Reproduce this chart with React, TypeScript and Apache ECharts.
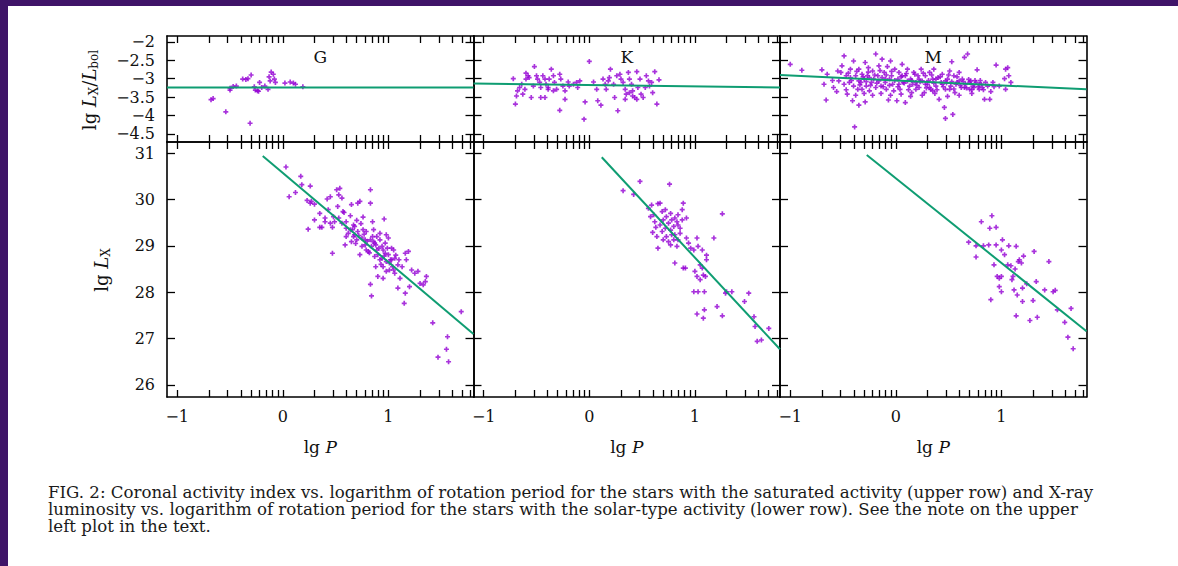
import React, { useEffect, useRef } from 'react';
import * as echarts from 'echarts';

// ---------- data ----------
const PANEL_NAMES = ['G', 'K', 'M'];
const P_TICK_DAYS = [0.1, 0.2, 0.3, 0.4, 0.5, 0.6, 0.7, 0.8, 0.9, 1, 2, 3, 4, 5, 6, 7, 8, 9, 10, 20, 30, 40, 50, 60];
const X_LABELS = [-1, 0, 1];
const TOP_Y_TICKS = [-2, -2.5, -3, -3.5, -4, -4.5];
const BOT_Y_TICKS = [26, 27, 28, 29, 30, 31];
const P_MIN_DAYS = 0.08;
const P_MAX_DAYS = 64;
const TOP_Y_RANGE = [-4.72, -1.84];
const BOT_Y_RANGE = [25.74, 31.24];

const G_TOP = [[-0.68,-3.57],[-0.66,-3.54],[-0.54,-3.90],[-0.50,-3.31],[-0.50,-3.26],[-0.47,-3.21],[-0.44,-3.20],[-0.38,-3.01],[-0.35,-3.02],[-0.33,-3.00],[-0.30,-2.90],[-0.31,-4.21],[-0.27,-3.22],[-0.26,-3.31],[-0.24,-3.33],[-0.22,-3.10],[-0.20,-3.24],[-0.17,-3.20],[-0.14,-3.29],[-0.12,-3.06],[-0.11,-2.82],[-0.09,-2.88],[-0.08,-3.01],[-0.07,-3.10],[0.02,-3.12],[0.07,-3.09],[0.10,-3.12],[0.12,-3.15],[0.19,-3.22],[-0.23,-3.34],[-0.13,-2.95]];

const K_TOP = [[-0.72,-3.00],[-0.69,-3.47],[-0.70,-3.69],[-0.68,-3.33],[-0.66,-3.24],[-0.60,-2.85],[-0.58,-2.92],[-0.60,-3.01],[-0.57,-2.97],[-0.52,-2.67],[-0.50,-2.92],[-0.49,-3.01],[-0.47,-3.10],[-0.46,-3.24],[-0.44,-2.92],[-0.42,-3.01],[-0.41,-3.15],[-0.39,-3.29],[-0.38,-3.01],[-0.36,-2.74],[-0.34,-2.92],[-0.33,-3.10],[-0.31,-3.29],[-0.28,-2.88],[-0.27,-3.01],[-0.25,-3.20],[-0.23,-3.56],[-0.28,-3.86],[-0.20,-3.09],[-0.19,-3.20],[-0.15,-3.15],[-0.12,-3.10],[-0.11,-3.24],[-0.09,-3.06],[-0.04,-3.63],[-0.05,-4.10],[0.00,-2.53],[0.04,-3.09],[0.07,-3.29],[0.08,-3.60],[0.11,-3.72],[0.13,-3.01],[0.15,-3.15],[0.16,-3.29],[0.18,-3.06],[0.19,-2.97],[0.20,-2.74],[0.23,-3.15],[0.24,-3.51],[0.26,-2.92],[0.27,-3.87],[0.29,-2.88],[0.30,-3.01],[0.32,-3.10],[0.34,-3.29],[0.35,-3.42],[0.37,-2.83],[0.38,-3.01],[0.40,-3.15],[0.41,-3.33],[0.43,-3.51],[0.45,-2.81],[0.46,-3.24],[0.48,-3.01],[0.49,-3.42],[0.51,-3.51],[0.53,-3.24],[0.54,-2.92],[0.56,-3.06],[0.57,-3.20],[0.59,-3.10],[0.60,-3.38],[0.62,-2.81],[0.64,-3.69],[0.66,-3.03],[-0.63,-3.42],[-0.64,-3.15],[-0.61,-3.29],[-0.55,-3.51],[-0.53,-3.20],[-0.46,-3.51],[-0.42,-3.51],[-0.39,-3.24],[-0.34,-3.33],[-0.23,-3.33],[0.41,-3.47],[0.45,-3.56],[0.38,-3.38],[0.34,-3.56]];

const M_TOP = [[-1.00,-2.61],[-0.89,-2.77],[-0.70,-2.76],[-0.68,-3.15],[-0.66,-3.58],[-0.65,-2.88],[-0.59,-3.24],[-0.55,-2.79],[-0.54,-3.06],[-0.51,-2.65],[-0.49,-2.38],[-0.47,-2.92],[-0.46,-3.42],[-0.44,-3.10],[-0.43,-2.74],[-0.41,-3.60],[-0.40,-2.52],[-0.39,-4.31],[-0.38,-2.92],[-0.36,-3.29],[-0.35,-3.72],[-0.35,-2.74],[-0.33,-3.10],[-0.32,-2.88],[-0.30,-3.01],[-0.29,-2.56],[-0.29,-3.63],[-0.28,-3.20],[-0.26,-2.70],[-0.25,-2.97],[-0.23,-3.10],[-0.22,-2.79],[-0.19,-2.33],[-0.17,-2.92],[-0.16,-2.65],[-0.14,-3.20],[-0.13,-2.47],[-0.11,-2.83],[-0.10,-3.01],[-0.09,-3.29],[-0.08,-2.67],[-0.07,-3.58],[-0.05,-2.52],[-0.04,-2.92],[-0.03,-3.15],[-0.01,-2.74],[0.01,-3.60],[0.02,-3.01],[0.03,-2.83],[0.04,-3.29],[0.06,-2.61],[0.07,-3.10],[0.09,-2.92],[0.09,-3.65],[0.11,-2.74],[0.13,-3.20],[0.14,-3.01],[0.15,-3.38],[0.17,-2.83],[0.19,-3.10],[0.21,-2.92],[0.22,-3.24],[0.24,-2.74],[0.25,-3.06],[0.27,-3.38],[0.28,-2.92],[0.30,-3.15],[0.32,-2.83],[0.33,-3.29],[0.35,-3.01],[0.36,-2.74],[0.38,-3.20],[0.40,-2.97],[0.41,-3.56],[0.43,-3.10],[0.44,-2.88],[0.46,-3.78],[0.47,-4.08],[0.47,-3.29],[0.49,-3.01],[0.51,-2.79],[0.52,-3.20],[0.53,-2.54],[0.54,-3.97],[0.55,-2.92],[0.56,-3.38],[0.58,-3.10],[0.60,-2.83],[0.62,-3.24],[0.63,-3.01],[0.65,-2.42],[0.66,-3.15],[0.68,-2.33],[0.70,-3.29],[0.71,-3.06],[0.73,-3.20],[0.76,-3.10],[0.77,-2.76],[0.79,-3.29],[0.81,-3.15],[0.84,-3.56],[0.89,-3.56],[0.92,-3.10],[0.95,-2.63],[0.98,-3.20],[1.03,-3.00],[1.04,-2.74],[1.06,-2.70],[1.07,-2.92],[1.09,-3.10],[1.04,-3.29],[-0.52,-2.83],[-0.49,-3.15],[-0.43,-2.97],[-0.40,-3.20],[-0.35,-3.06],[-0.32,-3.29],[-0.27,-2.92],[-0.25,-3.33],[-0.21,-3.01],[-0.19,-3.24],[-0.16,-3.06],[-0.13,-2.97],[-0.10,-3.10],[-0.06,-3.01],[-0.02,-3.33],[0.03,-3.15],[0.06,-2.92],[0.11,-3.06],[0.16,-3.15],[0.19,-3.29],[0.22,-3.01],[0.28,-3.15],[0.32,-3.24],[0.35,-3.33],[0.38,-3.01],[0.44,-3.15],[0.47,-3.06],[0.51,-3.29],[0.57,-3.15],[0.60,-3.06],[0.65,-3.24],[0.70,-3.10],[0.74,-3.24],[0.79,-3.15],[0.82,-3.24],[0.85,-3.10],[-0.45,-2.85],[-0.42,-3.05],[-0.37,-2.80],[-0.34,-3.17],[-0.31,-2.95],[-0.28,-3.08],[-0.26,-2.82],[-0.24,-3.18],[-0.20,-2.90],[-0.18,-3.12],[-0.15,-2.78],[-0.12,-3.22],[-0.09,-2.90],[-0.06,-3.18],[-0.04,-2.80],[-0.01,-3.05],[0.02,-3.22],[0.05,-2.95],[0.08,-3.12],[0.10,-2.86],[0.12,-3.30],[0.15,-3.05],[0.18,-2.88],[0.20,-3.18],[0.23,-3.08],[0.26,-2.85],[0.29,-3.25],[0.31,-3.05],[0.34,-2.90],[0.36,-3.12],[0.39,-3.30],[0.42,-2.95],[0.45,-3.22],[0.48,-3.12],[0.50,-2.90],[0.53,-3.08],[0.55,-3.28],[0.58,-2.95],[0.61,-3.18],[0.64,-3.08],[0.67,-3.25],[0.69,-3.02],[0.72,-3.30],[0.75,-3.05],[0.78,-3.22],[0.80,-3.05],[0.83,-3.30],[0.87,-3.20],[0.90,-3.35],[0.93,-3.22],[-0.60,-3.05],[-0.56,-3.35],[-0.47,-3.30],[-0.38,-3.45],[-0.30,-3.40],[-0.22,-3.45],[-0.14,-3.40],[-0.05,-3.45],[0.05,-3.42],[0.14,-3.48],[0.25,-3.45],[0.37,-3.40],[0.49,-3.48],[0.60,-3.45],[0.72,-3.40]];

const G_BOT = [[0.03,30.70],[0.06,30.06],[0.12,30.15],[0.17,30.50],[0.18,30.32],[0.26,30.29],[0.23,29.98],[0.26,29.92],[0.27,29.96],[0.24,29.36],[0.35,29.40],[0.37,29.40],[0.30,29.56],[0.40,29.52],[0.42,30.01],[0.45,30.06],[0.47,28.84],[0.51,30.21],[0.53,30.10],[0.54,30.24],[0.56,30.03],[0.57,29.74],[0.48,29.63],[0.49,29.52],[0.53,29.60],[0.43,29.78],[0.45,29.49],[0.60,29.52],[0.60,29.20],[0.59,29.02],[0.64,29.35],[0.65,29.89],[0.67,29.20],[0.68,29.42],[0.70,29.13],[0.71,29.92],[0.73,29.96],[0.73,28.81],[0.75,28.99],[0.76,29.35],[0.78,29.13],[0.79,29.31],[0.81,28.88],[0.83,30.21],[0.83,29.92],[0.83,28.17],[0.84,27.92],[0.85,29.52],[0.86,29.09],[0.87,28.77],[0.89,29.20],[0.90,28.34],[0.92,28.70],[0.94,28.99],[0.95,28.55],[0.96,29.58],[0.97,28.84],[0.98,28.45],[1.00,29.17],[1.01,28.63],[1.03,28.95],[1.05,28.48],[1.06,28.73],[1.09,28.09],[1.11,28.30],[1.13,28.55],[1.15,27.76],[1.16,27.98],[1.16,28.84],[1.19,28.88],[1.17,28.70],[1.20,28.12],[1.22,28.48],[1.25,28.41],[1.28,28.45],[1.30,28.19],[1.33,28.16],[1.35,28.23],[1.36,28.34],[1.42,27.34],[1.47,26.60],[1.55,26.77],[1.56,27.04],[1.57,26.50],[1.69,27.58],[0.62,29.27],[0.65,29.09],[0.68,29.24],[0.71,29.31],[0.75,29.17],[0.78,29.02],[0.79,28.91],[0.83,29.13],[0.84,28.99],[0.87,29.06],[0.89,28.91],[0.90,28.81],[0.92,29.13],[0.94,28.73],[0.95,28.91],[0.97,29.06],[0.98,28.66],[1.00,28.81],[1.01,28.48],[1.03,28.70],[1.05,28.91],[0.98,29.24],[0.92,29.27],[0.86,29.35],[0.67,29.45],[0.60,29.38],[0.56,29.49],[0.95,28.30],[1.06,28.41],[1.09,28.59],[0.66,29.35],[0.69,29.05],[0.72,29.22],[0.74,29.48],[0.77,29.25],[0.80,29.10],[0.82,28.85],[0.85,29.20],[0.88,29.02],[0.91,28.95],[0.93,28.60],[0.96,28.78],[0.99,28.95],[1.02,28.70],[1.04,28.55],[1.07,28.80],[1.10,28.70],[0.88,28.55],[0.76,29.62],[0.70,29.55],[0.64,29.65],[0.58,29.72],[0.52,29.85],[0.47,29.40],[0.40,29.60],[0.35,29.70],[0.30,29.90]];

const K_BOT = [[0.32,30.19],[0.42,30.11],[0.48,30.39],[0.76,30.33],[0.56,29.81],[0.59,29.88],[0.61,29.67],[0.62,29.52],[0.65,29.91],[0.67,29.92],[0.69,29.74],[0.70,29.56],[0.72,29.78],[0.73,29.63],[0.75,29.49],[0.77,29.70],[0.78,29.56],[0.80,29.42],[0.81,29.60],[0.83,29.52],[0.84,29.67],[0.86,29.38],[0.89,29.92],[0.88,29.78],[0.92,29.60],[0.60,29.29],[0.64,29.20],[0.65,28.95],[0.69,29.31],[0.70,29.13],[0.73,29.20],[0.75,29.09],[0.78,29.24],[0.81,28.63],[0.83,28.99],[0.84,29.13],[0.86,29.27],[0.89,28.52],[0.91,28.52],[0.92,29.17],[0.94,29.06],[0.96,28.95],[0.99,28.91],[1.00,28.45],[1.02,28.34],[1.02,29.17],[1.03,28.99],[1.05,28.59],[1.07,28.91],[1.08,28.37],[1.10,28.34],[1.11,28.80],[1.11,28.70],[0.99,28.01],[1.03,28.01],[1.09,28.01],[1.02,27.53],[1.08,27.44],[1.09,27.62],[1.18,29.17],[1.26,29.69],[1.21,27.69],[1.26,27.49],[1.29,27.98],[1.35,28.01],[1.30,28.01],[1.47,27.80],[1.51,27.98],[1.56,27.47],[1.57,27.26],[1.59,26.94],[1.63,26.97],[1.70,27.22],[1.05,28.27],[1.07,28.52],[0.58,29.63],[0.63,29.40],[0.67,29.45],[0.72,29.38],[0.77,29.34],[0.81,29.24],[0.84,29.45],[0.80,29.13],[0.77,29.02],[0.88,29.56]];

const M_BOT = [[0.69,29.08],[0.76,29.00],[0.76,28.76],[0.81,29.52],[0.83,29.00],[0.88,29.02],[0.89,29.38],[0.91,29.65],[0.95,29.40],[0.93,28.59],[0.90,27.84],[0.95,29.02],[0.96,28.34],[0.98,28.30],[1.00,28.91],[1.00,28.01],[1.01,29.13],[1.03,28.81],[1.06,28.59],[1.07,29.00],[1.09,28.57],[1.10,28.27],[1.12,28.05],[1.13,28.50],[1.14,28.99],[1.14,27.49],[1.15,27.94],[1.17,28.70],[1.19,28.63],[1.20,27.80],[1.21,28.78],[1.24,28.18],[1.27,27.39],[1.30,27.82],[1.31,28.88],[1.33,28.23],[1.34,27.46],[1.41,28.05],[1.45,28.66],[1.49,28.01],[1.51,28.04],[1.53,27.62],[1.60,27.35],[1.63,27.03],[1.66,27.65],[1.68,26.78],[0.98,28.12],[1.20,28.09],[1.11,28.34],[1.00,28.34],[1.16,28.66]];

const FIT_TOP = [
  [[-1.097, -3.24], [1.806, -3.24]],
  [[-1.097, -3.13], [1.806, -3.24]],
  [[-1.097, -2.90], [1.806, -3.29]],
];
const FIT_BOT = [
  [[-0.19, 30.94], [1.806, 27.10]],
  [[0.118, 30.91], [1.806, 26.77]],
  [[-0.275, 30.96], [1.806, 27.16]],
];

const CAPTION = [
  'FIG. 2: Coronal activity index vs. logarithm of rotation period for the stars with the saturated activity (upper row) and X-ray',
  'luminosity vs. logarithm of rotation period for the stars with the solar-type activity (lower row). See the note on the upper',
  'left plot in the text.',
];

// ---------- layout / style ----------
const FONT = '"DejaVu Serif", "Liberation Serif", serif';
const COL_LEFT = [167, 473.5, 780];
const COL_W = 306.5;
const ROW_TOP = [36, 142];
const ROW_H = [106, 255];
const POINT_COLOR = '#9400d3';
const LINE_COLOR = '#0f9d72';
const BORDER = '#3f1468';
const PLUS = 'path://M1,0H2V1H3V2H2V3H1V2H0V1H1Z';

const fmt = (v: number) => String(v).replace('-', '\u2212');

export default function App() {
  const ref = useRef<HTMLDivElement>(null);
  useEffect(() => {
    if (!ref.current) return;
    const chart = echarts.init(ref.current, undefined, { renderer: 'svg' });
    const xMin = Math.log10(P_MIN_DAYS);
    const xMax = Math.log10(P_MAX_DAYS);
    const xTicks = P_TICK_DAYS.map((p) => Math.log10(p));

    const grids: any[] = [];
    const xAxes: any[] = [];
    const yAxes: any[] = [];
    const series: any[] = [];
    const tops = [G_TOP, K_TOP, M_TOP];
    const bots = [G_BOT, K_BOT, M_BOT];

    for (let r = 0; r < 2; r++) {
      for (let c = 0; c < 3; c++) {
        const g = r * 3 + c;
        grids.push({ left: COL_LEFT[c], top: ROW_TOP[r], width: COL_W, height: ROW_H[r], containLabel: false, outerBoundsMode: 'none' });
        for (const pos of ['bottom', 'top']) {
          xAxes.push({
            type: 'value', gridIndex: g, position: pos, min: xMin, max: xMax,
            axisLine: { show: true, onZero: false, lineStyle: { color: '#000', width: 1.6 } },
            axisTick: { show: true, inside: true, length: 7, customValues: xTicks, lineStyle: { color: '#000', width: 1.3 } },
            axisLabel: { show: r === 1 && pos === 'bottom', customValues: X_LABELS, formatter: fmt, margin: 11, fontFamily: FONT, fontSize: 16, color: '#111' },
            splitLine: { show: false },
          });
        }
        const yr = r === 0 ? TOP_Y_RANGE : BOT_Y_RANGE;
        const yt = r === 0 ? TOP_Y_TICKS : BOT_Y_TICKS;
        for (const pos of ['left', 'right']) {
          yAxes.push({
            type: 'value', gridIndex: g, position: pos, min: yr[0], max: yr[1],
            axisLine: { show: true, onZero: false, lineStyle: { color: '#000', width: 1.6 } },
            axisTick: { show: true, inside: true, length: 8, customValues: yt, lineStyle: { color: '#000', width: 1.3 } },
            axisLabel: { show: c === 0 && pos === 'left', customValues: yt, formatter: fmt, margin: 12, fontFamily: FONT, fontSize: 16, color: '#111' },
            splitLine: { show: false },
          });
        }
        const pts = r === 0 ? tops[c] : bots[c];
        const fit = r === 0 ? FIT_TOP[c] : FIT_BOT[c];
        series.push({
          type: 'scatter', xAxisIndex: g * 2, yAxisIndex: g * 2, data: pts,
          symbol: PLUS, symbolSize: 5, itemStyle: { color: POINT_COLOR }, z: 2,
        });
        series.push({
          type: 'line', xAxisIndex: g * 2, yAxisIndex: g * 2, data: fit,
          showSymbol: false, symbol: 'none', lineStyle: { color: LINE_COLOR, width: 2 }, z: 3,
        });
      }
    }

    const graphic: any[] = [
      { type: 'rect', z: 100, shape: { x: 1110, y: 6, width: 80, height: 570 }, style: { fill: '#ffffff' }, silent: true },
      { type: 'rect', z: 101, shape: { x: 0, y: 0, width: 1200, height: 6 }, style: { fill: BORDER }, silent: true },
      { type: 'rect', z: 101, shape: { x: 0, y: 0, width: 8, height: 566 }, style: { fill: BORDER }, silent: true },
    ];
    PANEL_NAMES.forEach((n, c) => {
      graphic.push({
        type: 'text', x: COL_LEFT[c] + COL_W / 2, y: 57,
        style: { text: n, fill: '#111', font: `17px ${FONT}`, textAlign: 'center', textVerticalAlign: 'middle', align: 'center', verticalAlign: 'middle' },
      });
      graphic.push({
        type: 'text', x: COL_LEFT[c] + COL_W / 2, y: 447,
        style: {
          text: '{n|lg }{i|P}', textAlign: 'center', textVerticalAlign: 'middle', align: 'center', verticalAlign: 'middle',
          rich: { n: { fontFamily: FONT, fontSize: 17, fill: '#111', color: '#111' }, i: { fontFamily: FONT, fontSize: 17, fontStyle: 'italic', fill: '#111', color: '#111' } },
        },
      });
    });
    const richY = {
      n: { fontFamily: FONT, fontSize: 18, color: '#111', fill: '#111' },
      i: { fontFamily: FONT, fontSize: 18, fontStyle: 'italic', color: '#111', fill: '#111' },
      s: { fontFamily: FONT, fontSize: 12, color: '#111', fill: '#111', padding: [9, 0, 0, 0] },
    };
    graphic.push({
      type: 'text', x: 89, y: 90, rotation: Math.PI / 2,
      style: { text: '{n|lg }{i|L}{s|X}{n|/}{i|L}{s|bol}', textAlign: 'center', textVerticalAlign: 'middle', align: 'center', verticalAlign: 'middle', rich: richY },
    });
    graphic.push({
      type: 'text', x: 101, y: 270, rotation: Math.PI / 2,
      style: { text: '{n|lg }{i|L}{s|X}', textAlign: 'center', textVerticalAlign: 'middle', align: 'center', verticalAlign: 'middle', rich: richY },
    });

    // caption sized to the reference line width
    let capSize = 15;
    try {
      const ctx = document.createElement('canvas').getContext('2d');
      if (ctx) {
        ctx.font = `15px "DejaVu Serif"`;
        const w = ctx.measureText(CAPTION[0]).width;
        if (w > 0) capSize = (15 * 1046) / w;
      }
    } catch (e) { /* ignore */ }
    CAPTION.forEach((line, i) => {
      graphic.push({
        type: 'text', x: 48, y: 492 + i * 17,
        style: { text: line, fill: '#1a1a1a', font: `${capSize.toFixed(2)}px ${FONT}`, textAlign: 'left', textVerticalAlign: 'middle', align: 'left', verticalAlign: 'middle' },
      });
    });

    chart.setOption({
      animation: false,
      backgroundColor: '#ffffff',
      grid: grids,
      xAxis: xAxes,
      yAxis: yAxes,
      series,
      graphic,
    });
    return () => chart.dispose();
  }, []);
  return <div ref={ref} style={{ position: 'fixed', left: 0, top: 0, width: 1178, height: 566, background: '#ffffff' }} />;
}
